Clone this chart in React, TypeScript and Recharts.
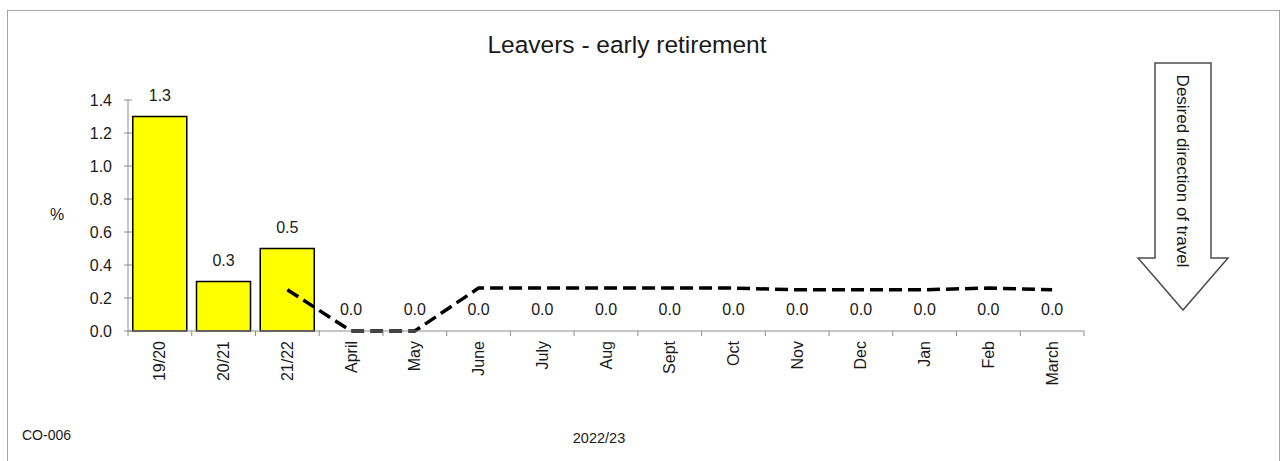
import React from 'react';
import { ComposedChart, Bar, Line, XAxis, YAxis, LabelList } from 'recharts';

const categories = ['19/20', '20/21', '21/22', 'April', 'May', 'June', 'July', 'Aug', 'Sept', 'Oct', 'Nov', 'Dec', 'Jan', 'Feb', 'March'];
const barValues = [1.3, 0.3, 0.5, 0, 0, 0, 0, 0, 0, 0, 0, 0, 0, 0, 0];
const lineValues = [null, null, 0.25, 0, 0, 0.26, 0.26, 0.26, 0.26, 0.26, 0.25, 0.25, 0.25, 0.26, 0.25];
const yTicks = [0, 0.2, 0.4, 0.6, 0.8, 1.0, 1.2, 1.4];

const data = categories.map((name, i) => ({ name, value: barValues[i], trend: lineValues[i] }));

const FONT = '"Liberation Sans", Arial, sans-serif';
const TEXT = '#1a1a1a';
const AXIS = '#8c8c8c';

const YTick = (props: any) => {
  const { x, y, payload } = props;
  // axis sits at x + 16 (tickSize 4 + tickMargin 12); Excel-style cross tick
  return (
    <g>
      <line x1={x + 12} x2={x + 20} y1={y} y2={y} stroke={AXIS} strokeWidth={1} />
      <text x={x} y={y} dy={5.5} textAnchor="end" fontSize={16} fill={TEXT} fontFamily={FONT}>
        {Number(payload.value).toFixed(1)}
      </text>
    </g>
  );
};

const XTick = (props: any) => {
  const { x, y, payload, index, width, visibleTicksCount } = props;
  const band = width / visibleTicksCount;
  const axisY = y - 10;
  return (
    <g>
      <line x1={x - band / 2} x2={x - band / 2} y1={axisY} y2={axisY + 5} stroke={AXIS} />
      {index === visibleTicksCount - 1 && (
        <line x1={x + band / 2} x2={x + band / 2} y1={axisY} y2={axisY + 5} stroke={AXIS} />
      )}
      <text
        x={x}
        y={y}
        dy={5.5}
        transform={`rotate(-90, ${x}, ${y})`}
        textAnchor="end"
        fontSize={16}
        fill={TEXT}
        fontFamily={FONT}
      >
        {payload.value}
      </text>
    </g>
  );
};

export default function App() {
  return (
    <div
      style={{
        position: 'absolute',
        left: 0,
        top: 0,
        width: 1285,
        height: 461,
        overflow: 'hidden',
        background: '#fff',
        fontFamily: FONT,
      }}
    >
      <div
        style={{
          position: 'absolute',
          left: 7,
          top: 10,
          width: 1273,
          height: 480,
          border: '1px solid #a6a6a6',
          boxSizing: 'border-box',
        }}
      />
      <div style={{ position: 'absolute', left: 0, top: 0 }}>
        <ComposedChart
          width={1285}
          height={461}
          data={data}
          margin={{ top: 100, right: 201, left: 0, bottom: 100 }}
          barCategoryGap="7.5%"
        >
          <XAxis
            dataKey="name"
            height={30}
            interval={0}
            tickSize={0}
            tickMargin={10}
            tickLine={false}
            axisLine={{ stroke: AXIS }}
            tick={<XTick />}
          />
          <YAxis
            width={128}
            domain={[0, 1.4]}
            ticks={yTicks}
            interval={0}
            tickSize={4}
            tickMargin={12}
            tickLine={false}
            axisLine={{ stroke: AXIS }}
            tick={<YTick />}
          />
          <Bar dataKey="value" fill="#ffff00" stroke="#000" strokeWidth={1.5} isAnimationActive={false} />
          <Line
            dataKey="value"
            stroke="none"
            dot={false}
            activeDot={false}
            legendType="none"
            isAnimationActive={false}
          >
            <LabelList
              dataKey="value"
              position="top"
              offset={16}
              formatter={(v: any) => Number(v).toFixed(1)}
              style={{ fontSize: 16, fill: TEXT, fontFamily: FONT }}
            />
          </Line>
          <Line
            dataKey="trend"
            stroke="#000"
            strokeWidth={3.5}
            strokeDasharray="13 6"
            dot={false}
            activeDot={false}
            connectNulls={false}
            isAnimationActive={false}
          />
        </ComposedChart>
      </div>
      <svg
        width={1285}
        height={461}
        style={{ position: 'absolute', left: 0, top: 0, pointerEvents: 'none' }}
      >
        <text x={627} y={53} textAnchor="middle" fontSize={24.5} fill={TEXT} fontFamily={FONT}>
          Leavers - early retirement
        </text>
        <text x={57} y={220} textAnchor="middle" fontSize={16} fill={TEXT} fontFamily={FONT}>
          %
        </text>
        <text x={22} y={440} fontSize={14} fill={TEXT} fontFamily={FONT}>
          CO-006
        </text>
        <text x={599} y={443} textAnchor="middle" fontSize={14.5} fill={TEXT} fontFamily={FONT}>
          2022/23
        </text>
        <polygon
          points="1155,63 1211,63 1211,258 1228,258 1183,310 1138,258 1155,258"
          fill="#fff"
          stroke="#4d4d4d"
          strokeWidth={1.5}
        />
        <text
          x={1183}
          y={171}
          dy={6}
          transform="rotate(90, 1183, 171)"
          textAnchor="middle"
          fontSize={17}
          fill={TEXT}
          fontFamily={FONT}
        >
          Desired direction of travel
        </text>
      </svg>
    </div>
  );
}
